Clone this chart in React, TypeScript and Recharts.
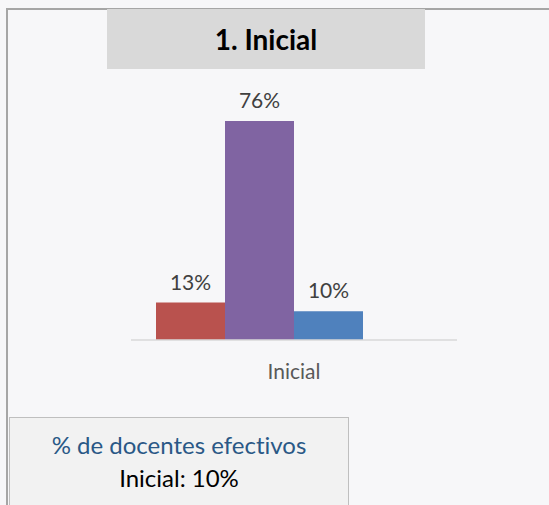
import React from 'react';
import { BarChart, Bar, XAxis, YAxis, LabelList } from 'recharts';

const categories = ['Inicial'];
const serieA = [13];
const serieB = [76];
const serieC = [10];
const serieD: (number | null)[] = [null];
const seriesColors = ['#B9524E', '#8064A2', '#4F81BD', '#9BBB59'];
const title = '1. Inicial';
const boxTitle = '% de docentes efectivos';
const boxValueLabel = 'Inicial';
const boxValue = 10;

const data = categories.map((c, i) => ({
  name: c,
  a: serieA[i],
  b: serieB[i],
  c: serieC[i],
  d: serieD[i],
}));

const font = 'Lato, "Open Sans", sans-serif';

const fmt = (v: any) => (v == null ? '' : `${v}%`);

export default function App() {
  return (
    <div
      style={{
        position: 'absolute',
        left: 0,
        top: 0,
        width: 549,
        height: 505,
        overflow: 'hidden',
        background: '#F7F7F9',
        fontFamily: font,
        fontVariantLigatures: 'none',
      }}
    >
      <div
        style={{
          position: 'absolute',
          left: 6,
          top: 8,
          width: 700,
          height: 700,
          border: '2px solid #A6A6A6',
          boxSizing: 'border-box',
        }}
      />
      <div style={{ position: 'absolute', left: 0, top: 0 }}>
        <BarChart
          width={549}
          height={505}
          data={data}
          margin={{ top: 52, right: 92, bottom: 135, left: 131 }}
          barCategoryGap={25}
          barGap={0}
        >
          <XAxis
            dataKey="name"
            height={30}
            axisLine={{ stroke: '#D9D9D9', strokeWidth: 1.5 }}
            tickLine={false}
            tick={{ fill: '#595959', fontSize: 21, fontFamily: font }}
            dy={16}
          />
          <YAxis hide domain={[0, 100]} />
          <Bar dataKey="a" fill={seriesColors[0]} isAnimationActive={false}>
            <LabelList dataKey="a" position="top" offset={13} formatter={fmt} fill="#404040" fontSize={21} fontFamily={font} />
          </Bar>
          <Bar dataKey="b" fill={seriesColors[1]} isAnimationActive={false}>
            <LabelList dataKey="b" position="top" offset={13} formatter={fmt} fill="#404040" fontSize={21} fontFamily={font} />
          </Bar>
          <Bar dataKey="c" fill={seriesColors[2]} isAnimationActive={false}>
            <LabelList dataKey="c" position="top" offset={13} formatter={fmt} fill="#404040" fontSize={21} fontFamily={font} />
          </Bar>
          <Bar dataKey="d" fill={seriesColors[3]} isAnimationActive={false} />
        </BarChart>
      </div>
      <div
        style={{
          position: 'absolute',
          left: 107,
          top: 9,
          width: 318,
          height: 60,
          background: '#D9D9D9',
          display: 'flex',
          alignItems: 'center',
          justifyContent: 'center',
          fontWeight: 'bold',
          fontSize: 28,
          color: '#000',
        }}
      >
        {title}
      </div>
      <div
        style={{
          position: 'absolute',
          left: 9,
          top: 417,
          width: 340,
          height: 120,
          background: '#F2F2F2',
          border: '1px solid #BFBFBF',
          boxSizing: 'border-box',
          textAlign: 'center',
        }}
      >
        <div style={{ position: 'absolute', left: 0, right: 0, top: 12, fontSize: 24, color: '#2A5886', lineHeight: '30px' }}>
          {boxTitle}
        </div>
        <div style={{ position: 'absolute', left: 0, right: 0, top: 45, fontSize: 24, color: '#000', lineHeight: '30px' }}>
          {`${boxValueLabel}: ${boxValue}%`}
        </div>
      </div>
    </div>
  );
}
